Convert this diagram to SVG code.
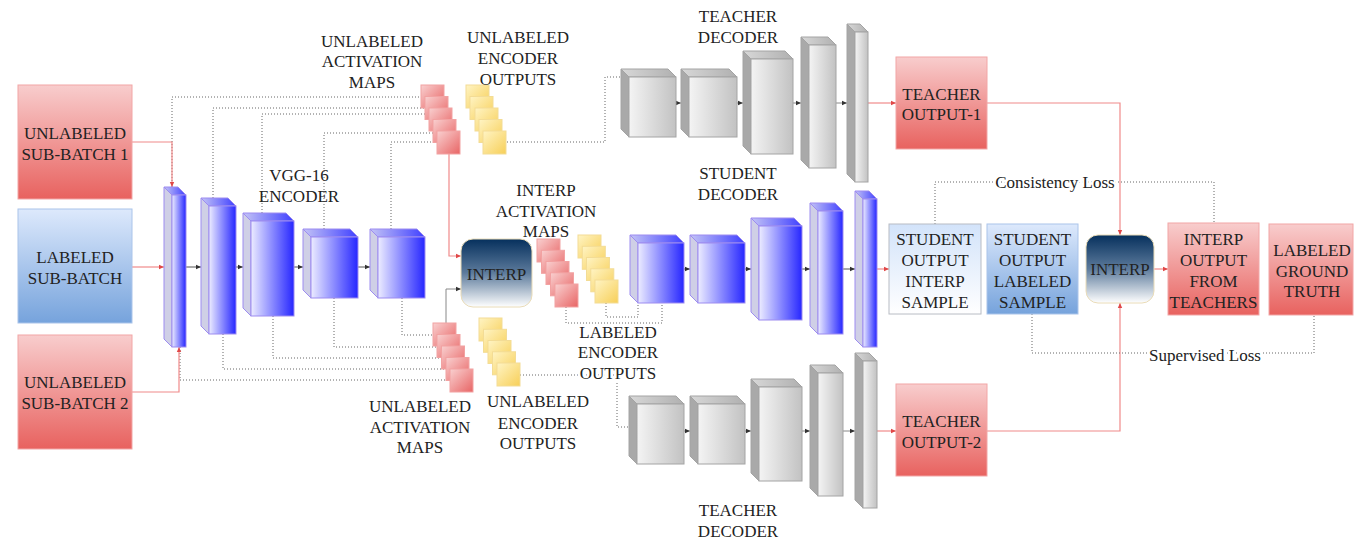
<svg xmlns="http://www.w3.org/2000/svg" width="1355" height="540" viewBox="0 0 1355 540">
<defs>
<linearGradient id="gRed" x1="0" y1="0" x2="0" y2="1"><stop offset="0" stop-color="#f8cdcd"/><stop offset="1" stop-color="#e8625f"/></linearGradient>
<linearGradient id="gBlue" x1="0" y1="0" x2="0" y2="1"><stop offset="0" stop-color="#dde9fc"/><stop offset="1" stop-color="#76a3dc"/></linearGradient>
<linearGradient id="gPale" x1="0" y1="0" x2="0" y2="1"><stop offset="0" stop-color="#d2e3fa"/><stop offset="1" stop-color="#ffffff"/></linearGradient>
<linearGradient id="gInterp" x1="0" y1="0" x2="0" y2="1"><stop offset="0" stop-color="#06305d"/><stop offset="0.5" stop-color="#5d7b9c"/><stop offset="1" stop-color="#ffffff"/></linearGradient>
<linearGradient id="gBF" x1="0" y1="0" x2="1" y2="0"><stop offset="0" stop-color="#ececff"/><stop offset="1" stop-color="#2626ff"/></linearGradient>
<linearGradient id="gBT" x1="0" y1="0" x2="1" y2="0"><stop offset="0" stop-color="#c4c4f6"/><stop offset="1" stop-color="#4040ff"/></linearGradient>
<linearGradient id="gGF" x1="0" y1="0" x2="1" y2="0"><stop offset="0" stop-color="#f4f4f4"/><stop offset="1" stop-color="#c2c2c2"/></linearGradient>
<linearGradient id="gGT" x1="0" y1="0" x2="1" y2="0"><stop offset="0" stop-color="#d8d8d8"/><stop offset="1" stop-color="#b0b0b0"/></linearGradient>
<linearGradient id="gRS" x1="0" y1="0" x2="1" y2="1"><stop offset="0" stop-color="#f9d0d0"/><stop offset="1" stop-color="#e86565"/></linearGradient>
<linearGradient id="gYS" x1="0" y1="0" x2="1" y2="1"><stop offset="0" stop-color="#fff4c4"/><stop offset="1" stop-color="#f7cf58"/></linearGradient>
<marker id="aR" markerWidth="6" markerHeight="6" refX="5" refY="3" orient="auto" markerUnits="userSpaceOnUse"><path d="M0,0.8 L5,3 L0,5.2 z" fill="#e04848"/></marker>
<marker id="aK" markerWidth="6" markerHeight="6" refX="5" refY="3" orient="auto" markerUnits="userSpaceOnUse"><path d="M0,0.8 L5,3 L0,5.2 z" fill="#333"/></marker>
</defs>
<style>
text{font-family:"Liberation Serif","Times New Roman",serif;font-size:17px;fill:#222;text-anchor:middle}
.halo{stroke:#fff;stroke-width:5;paint-order:stroke;stroke-linejoin:round}
.rbox{fill:url(#gRed);stroke:#f2a6a6;stroke-width:1}
.bbox{fill:url(#gBlue);stroke:#aac4ea;stroke-width:1}
.pbox{fill:url(#gPale);stroke:#b8bcc4;stroke-width:1}
.ibox{fill:url(#gInterp);stroke:#eadcb8;stroke-width:1}
.bf{fill:url(#gBF);stroke:#9d8cf0;stroke-width:1}
.bt{fill:url(#gBT);stroke:#9d8cf0;stroke-width:1}
.bs{fill:#cfcfe6;stroke:#9d8cf0;stroke-width:1}
.gf{fill:url(#gGF);stroke:#a4a4a4;stroke-width:1}
.gt{fill:url(#gGT);stroke:#a4a4a4;stroke-width:1}
.gs{fill:#a9a9a9;stroke:#a4a4a4;stroke-width:1}
.rs{fill:url(#gRS);stroke:#f2a2a2;stroke-width:1}
.ys{fill:url(#gYS);stroke:#f3dc95;stroke-width:1}
.red{fill:none;stroke:#f08a8a;stroke-width:1.2}
.dot{fill:none;stroke:#666;stroke-width:1;stroke-dasharray:1 2}
.blk{fill:none;stroke:#555;stroke-width:1}
.gry{fill:none;stroke:#888;stroke-width:1}
</style>

<g id="connectors">
<!-- encoder to top activation maps -->
<path class="dot" d="M172,187 V97 H421"/>
<path class="dot" d="M213,198 V108 H425"/>
<path class="dot" d="M262,213 V114 H429"/>
<path class="dot" d="M324,229 V133 H433"/>
<path class="dot" d="M391,229 V142 H437"/>
<!-- encoder to bottom activation maps -->
<path class="dot" d="M402,298 V335 H433"/>
<path class="dot" d="M334,298 V347 H437"/>
<path class="dot" d="M273,316 V358 H441"/>
<path class="dot" d="M223,334 V369 H446"/>
<path class="dot" d="M180,347 V380 H450"/>
<!-- encoder outputs to decoders -->
<path class="dot" d="M507,142 H605 V77 H621"/>
<path class="dot" d="M520,375 H617 V427 H629"/>
<path class="dot" d="M566,307 V323 H662 V303"/>
<path class="dot" d="M606,303 V317 H638 V303"/>
<!-- inputs -->
<path class="red" d="M132,142 H172 V187" marker-end="url(#aR)"/>
<path class="red" d="M132,267 H164" marker-end="url(#aR)"/>
<path class="red" d="M132,392 H179 V347" marker-end="url(#aR)"/>
<!-- encoder arrows -->
<path class="blk" d="M186,267 H201" marker-end="url(#aK)"/>
<path class="blk" d="M236,267 H243" marker-end="url(#aK)"/>
<path class="blk" d="M294,267 H303" marker-end="url(#aK)"/>
<path class="blk" d="M358,267 H370" marker-end="url(#aK)"/>
<!-- interp inputs -->
<path class="red" d="M449,154 V256 H461" marker-end="url(#aR)"/>
<path class="gry" d="M446,323 V289 H461" marker-end="url(#aK)"/>
<!-- teacher top -->
<path class="gry" d="M676,103 H681" marker-end="url(#aK)"/>
<path class="gry" d="M737,103 H743" marker-end="url(#aK)"/>
<path class="gry" d="M793,103 H801" marker-end="url(#aK)"/>
<path class="gry" d="M836,103 H847" marker-end="url(#aK)"/>
<path class="red" d="M868,103 H896" marker-end="url(#aR)"/>
<!-- student -->
<path class="blk" d="M684,269 H690" marker-end="url(#aK)"/>
<path class="blk" d="M745,269 H751" marker-end="url(#aK)"/>
<path class="blk" d="M802,269 H810" marker-end="url(#aK)"/>
<path class="blk" d="M843,269 H855" marker-end="url(#aK)"/>
<path class="red" d="M877,269 H889" marker-end="url(#aR)"/>
<!-- teacher bottom -->
<path class="gry" d="M684,431 H690" marker-end="url(#aK)"/>
<path class="gry" d="M745,431 H751" marker-end="url(#aK)"/>
<path class="gry" d="M802,431 H810" marker-end="url(#aK)"/>
<path class="gry" d="M843,431 H855" marker-end="url(#aK)"/>
<path class="red" d="M877,431 H896" marker-end="url(#aR)"/>
<!-- right side -->
<path class="red" d="M987,103 H1120 V235" marker-end="url(#aR)"/>
<path class="red" d="M987,431 H1120 V303" marker-end="url(#aR)"/>
<path class="red" d="M1154,269 H1168" marker-end="url(#aR)"/>
<path class="dot" d="M935,224 V182 H1214 V223"/>
<path class="dot" d="M1032,314 V353 H1314 V315"/>
<text class="halo" x="1055" y="188">Consistency Loss</text>
<text class="halo" x="1205" y="361">Supervised Loss</text>
</g>

<g id="unlabeled-sub-batch-1"><rect class="rbox" x="18" y="85" width="114" height="114"/><text x="75" y="139">UNLABELED</text><text x="75" y="160">SUB-BATCH 1</text></g>
<g id="labeled-sub-batch"><rect class="bbox" x="18" y="209" width="114" height="114"/><text x="75" y="263">LABELED</text><text x="75" y="284">SUB-BATCH</text></g>
<g id="unlabeled-sub-batch-2"><rect class="rbox" x="18" y="335" width="114" height="114"/><text x="75" y="388">UNLABELED</text><text x="75" y="409">SUB-BATCH 2</text></g>

<g id="vgg16-encoder">
<polygon class="bs" points="164,187 172,195 172,347 164,339"/><polygon class="bt" points="164,187 178,187 186,195 172,195"/><rect class="bf" x="172" y="195" width="14" height="152"/>
<polygon class="bs" points="201,198 209,206 209,334 201,326"/><polygon class="bt" points="201,198 228,198 236,206 209,206"/><rect class="bf" x="209" y="206" width="27" height="128"/>
<polygon class="bs" points="243,213 251,221 251,316 243,308"/><polygon class="bt" points="243,213 286,213 294,221 251,221"/><rect class="bf" x="251" y="221" width="43" height="95"/>
<polygon class="bs" points="303,229 311,237 311,298 303,290"/><polygon class="bt" points="303,229 350,229 358,237 311,237"/><rect class="bf" x="311" y="237" width="47" height="61"/>
<polygon class="bs" points="370,229 378,237 378,298 370,290"/><polygon class="bt" points="370,229 417,229 425,237 378,237"/><rect class="bf" x="378" y="237" width="47" height="61"/>
<text x="299" y="181">VGG-16</text><text x="299" y="202">ENCODER</text>
</g>

<g id="unlabeled-activation-maps-top">
<rect class="rs" x="421" y="85" width="23" height="23"/><rect class="rs" x="425" y="96.5" width="23" height="23"/><rect class="rs" x="429" y="108" width="23" height="23"/><rect class="rs" x="433" y="119.5" width="23" height="23"/><rect class="rs" x="437" y="131" width="23" height="23"/>
<text x="372" y="46.5">UNLABELED</text><text x="372" y="67">ACTIVATION</text><text x="372" y="88">MAPS</text>
</g>
<g id="unlabeled-encoder-outputs-top">
<rect class="ys" x="466" y="85" width="23" height="23"/><rect class="ys" x="470" y="96.5" width="23" height="23"/><rect class="ys" x="475" y="108" width="23" height="23"/><rect class="ys" x="479" y="119.5" width="23" height="23"/><rect class="ys" x="483" y="131" width="23" height="23"/>
<text x="518" y="43">UNLABELED</text><text x="518" y="64">ENCODER</text><text x="518" y="85">OUTPUTS</text>
</g>

<g id="unlabeled-activation-maps-bottom">
<rect class="rs" x="433" y="323" width="23" height="23"/><rect class="rs" x="437" y="334.5" width="23" height="23"/><rect class="rs" x="441.5" y="346" width="23" height="23"/><rect class="rs" x="446" y="357.5" width="23" height="23"/><rect class="rs" x="450" y="369" width="23" height="23"/>
<text x="420" y="412">UNLABELED</text><text x="420" y="433">ACTIVATION</text><text x="420" y="453">MAPS</text>
</g>
<g id="unlabeled-encoder-outputs-bottom">
<rect class="ys" x="479" y="318" width="23" height="23"/><rect class="ys" x="483.5" y="329.3" width="23" height="23"/><rect class="ys" x="488" y="340.5" width="23" height="23"/><rect class="ys" x="492.5" y="351.8" width="23" height="23"/><rect class="ys" x="497" y="363" width="23" height="23"/>
<text x="538" y="407">UNLABELED</text><text x="538" y="429">ENCODER</text><text x="538" y="449">OUTPUTS</text>
</g>

<g id="interp-1"><rect class="ibox" x="461" y="239" width="71" height="68" rx="12"/><text x="496.5" y="280">INTERP</text></g>

<g id="interp-activation-maps">
<rect class="rs" x="537" y="239" width="23" height="23"/><rect class="rs" x="541.5" y="250.3" width="23" height="23"/><rect class="rs" x="546" y="261.5" width="23" height="23"/><rect class="rs" x="550.5" y="272.8" width="23" height="23"/><rect class="rs" x="555" y="284" width="23" height="23"/>
<text x="546" y="196">INTERP</text><text x="546" y="217">ACTIVATION</text><text x="546" y="237">MAPS</text>
</g>
<g id="labeled-encoder-outputs">
<rect class="ys" x="578" y="235" width="23" height="23"/><rect class="ys" x="582.3" y="246.3" width="23" height="23"/><rect class="ys" x="586.5" y="257.5" width="23" height="23"/><rect class="ys" x="590.8" y="268.8" width="23" height="23"/><rect class="ys" x="595" y="280" width="23" height="23"/>
<text class="halo" x="618" y="337.5">LABELED</text><text class="halo" x="618" y="358">ENCODER</text><text class="halo" x="618" y="379">OUTPUTS</text>
</g>

<g id="teacher-decoder-1">
<polygon class="gs" points="621,69 629,77 629,137 621,129"/><polygon class="gt" points="621,69 668,69 676,77 629,77"/><rect class="gf" x="629" y="77" width="47" height="60"/>
<polygon class="gs" points="681,69 689,77 689,137 681,129"/><polygon class="gt" points="681,69 729,69 737,77 689,77"/><rect class="gf" x="689" y="77" width="48" height="60"/>
<polygon class="gs" points="743,51 751,59 751,154 743,146"/><polygon class="gt" points="743,51 785,51 793,59 751,59"/><rect class="gf" x="751" y="59" width="42" height="95"/>
<polygon class="gs" points="801,37 809,45 809,168 801,160"/><polygon class="gt" points="801,37 828,37 836,45 809,45"/><rect class="gf" x="809" y="45" width="27" height="123"/>
<polygon class="gs" points="847,24 855,32 855,182 847,174"/><polygon class="gt" points="847,24 860,24 868,32 855,32"/><rect class="gf" x="855" y="32" width="13" height="150"/>
<text x="738" y="22">TEACHER</text><text x="738" y="43">DECODER</text>
</g>

<g id="student-decoder">
<polygon class="bs" points="630,235 638,243 638,303 630,295"/><polygon class="bt" points="630,235 676,235 684,243 638,243"/><rect class="bf" x="638" y="243" width="46" height="60"/>
<polygon class="bs" points="690,235 698,243 698,303 690,295"/><polygon class="bt" points="690,235 737,235 745,243 698,243"/><rect class="bf" x="698" y="243" width="47" height="60"/>
<polygon class="bs" points="751,218 759,226 759,320 751,312"/><polygon class="bt" points="751,218 794,218 802,226 759,226"/><rect class="bf" x="759" y="226" width="43" height="94"/>
<polygon class="bs" points="810,203 818,211 818,334 810,326"/><polygon class="bt" points="810,203 835,203 843,211 818,211"/><rect class="bf" x="818" y="211" width="25" height="123"/>
<polygon class="bs" points="855,191 863,199 863,347 855,339"/><polygon class="bt" points="855,191 869,191 877,199 863,199"/><rect class="bf" x="863" y="199" width="14" height="148"/>
<text x="738" y="178.5">STUDENT</text><text x="738" y="199.5">DECODER</text>
</g>

<g id="teacher-decoder-2">
<polygon class="gs" points="629,396 637,404 637,464 629,456"/><polygon class="gt" points="629,396 676,396 684,404 637,404"/><rect class="gf" x="637" y="404" width="47" height="60"/>
<polygon class="gs" points="690,396 698,404 698,464 690,456"/><polygon class="gt" points="690,396 737,396 745,404 698,404"/><rect class="gf" x="698" y="404" width="47" height="60"/>
<polygon class="gs" points="751,379 759,387 759,481 751,473"/><polygon class="gt" points="751,379 794,379 802,387 759,387"/><rect class="gf" x="759" y="387" width="43" height="94"/>
<polygon class="gs" points="810,365 818,373 818,496 810,488"/><polygon class="gt" points="810,365 835,365 843,373 818,373"/><rect class="gf" x="818" y="373" width="25" height="123"/>
<polygon class="gs" points="855,353 863,361 863,508 855,500"/><polygon class="gt" points="855,353 869,353 877,361 863,361"/><rect class="gf" x="863" y="361" width="14" height="147"/>
<text x="738" y="516">TEACHER</text><text x="738" y="537">DECODER</text>
</g>

<g id="teacher-output-1"><rect class="rbox" x="896" y="57" width="91" height="92"/><text x="941.5" y="99.5">TEACHER</text><text x="941.5" y="120">OUTPUT-1</text></g>
<g id="teacher-output-2"><rect class="rbox" x="896" y="384" width="91" height="92"/><text x="941.5" y="427">TEACHER</text><text x="941.5" y="448">OUTPUT-2</text></g>

<g id="student-output-interp-sample"><rect class="pbox" x="889" y="224" width="92" height="90"/><text x="935" y="245">STUDENT</text><text x="935" y="266">OUTPUT</text><text x="935" y="287">INTERP</text><text x="935" y="307.5">SAMPLE</text></g>
<g id="student-output-labeled-sample"><rect class="bbox" x="987" y="224" width="91" height="90"/><text x="1032.5" y="245">STUDENT</text><text x="1032.5" y="266">OUTPUT</text><text x="1032.5" y="287">LABELED</text><text x="1032.5" y="307.5">SAMPLE</text></g>
<g id="interp-2"><rect class="ibox" x="1086" y="235" width="68" height="68" rx="12"/><text x="1120" y="275">INTERP</text></g>
<g id="interp-output-from-teachers"><rect class="rbox" x="1168" y="223" width="91" height="92"/><text x="1213.5" y="245">INTERP</text><text x="1213.5" y="266">OUTPUT</text><text x="1213.5" y="287">FROM</text><text x="1213.5" y="307.5">TEACHERS</text></g>
<g id="labeled-ground-truth"><rect class="rbox" x="1269" y="224" width="84" height="91"/><text x="1312" y="256">LABELED</text><text x="1312" y="277">GROUND</text><text x="1312" y="297">TRUTH</text></g>
</svg>
